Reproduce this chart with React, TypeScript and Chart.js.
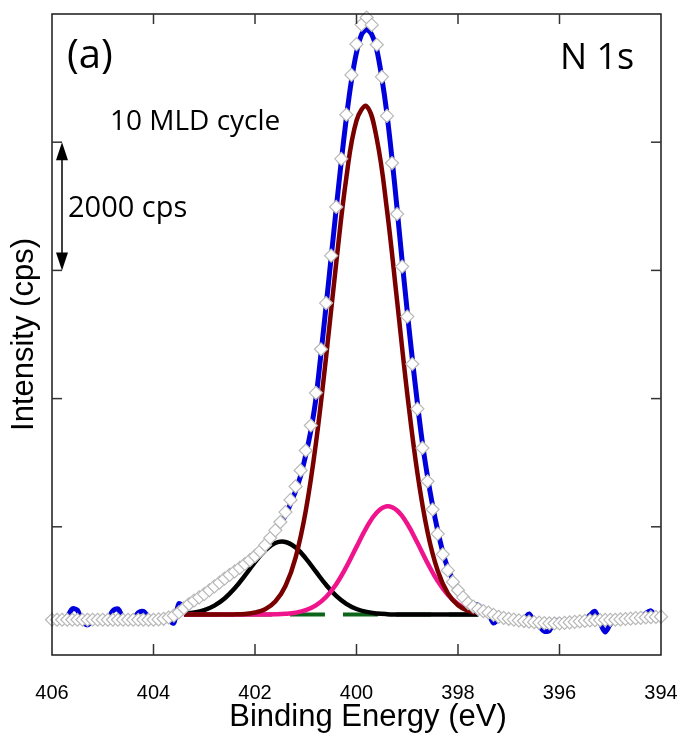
import React, { useEffect, useRef } from "react";
import { Chart, registerables } from "chart.js";

Chart.register(...registerables);

// ---------- DATA ----------
const energy = [
  406.0, 405.9, 405.8, 405.7, 405.6, 405.5, 405.4, 405.3, 405.2, 405.1,
  405.0, 404.9, 404.8, 404.7, 404.6, 404.5, 404.4, 404.3, 404.2, 404.1,
  404.0, 403.9, 403.8, 403.7, 403.6, 403.5, 403.4, 403.3, 403.2, 403.1,
  403.0, 402.9, 402.8, 402.7, 402.6, 402.5, 402.4, 402.3, 402.2, 402.1,
  402.0, 401.9, 401.8, 401.7, 401.6, 401.5, 401.4, 401.3, 401.2, 401.1,
  401.0, 400.9, 400.8, 400.7, 400.6, 400.5, 400.4, 400.3, 400.2, 400.1,
  400.0, 399.9, 399.8, 399.7, 399.6, 399.5, 399.4, 399.3, 399.2, 399.1,
  399.0, 398.9, 398.8, 398.7, 398.6, 398.5, 398.4, 398.3, 398.2, 398.1,
  398.0, 397.9, 397.8, 397.7, 397.6, 397.5, 397.4, 397.3, 397.2, 397.1,
  397.0, 396.9, 396.8, 396.7, 396.6, 396.5, 396.4, 396.3, 396.2, 396.1,
  396.0, 395.9, 395.8, 395.7, 395.6, 395.5, 395.4, 395.3, 395.2, 395.1,
  395.0, 394.9, 394.8, 394.7, 394.6, 394.5, 394.4, 394.3, 394.2, 394.1,
  394.0,
];

// fitted envelope (white diamonds), cps
const envelopeFit = [
  550, 550, 550, 550, 550, 550, 550, 550, 550, 550,
  550, 550, 550, 550, 550, 550, 550, 550, 550, 550,
  550, 555, 565, 585, 615, 665, 730, 795, 850, 900,
  950, 1010, 1070, 1130, 1190, 1250, 1305, 1360, 1420, 1480,
  1545, 1620, 1715, 1825, 1945, 2075, 2230, 2420, 2630, 2880,
  3190, 3580, 4090, 4770, 5490, 6230, 6990, 7740, 8430, 9050,
  9530, 9835, 9945, 9830, 9520, 9020, 8410, 7675, 6880, 6060,
  5280, 4540, 3840, 3230, 2710, 2270, 1890, 1570, 1320, 1140,
  1010, 900, 810, 755, 715, 685, 660, 625, 595, 578,
  565, 552, 540, 530, 520, 512, 505, 498, 494, 492,
  494, 500, 508, 516, 524, 532, 538, 542, 545, 547,
  548, 550, 555, 562, 568, 575, 580, 585, 590, 594,
  598,
];

// measured spectrum (blue line), cps
const measured = [
  560, 540, 555, 600, 720, 700, 520, 470, 530, 560,
  545, 560, 690, 720, 580, 540, 555, 660, 680, 600,
  560, 540, 560, 540, 500, 800, 760, 800, 860, 900,
  940, 1040, 1060, 1120, 1180, 1240, 1290, 1350, 1410, 1460,
  1520, 1590, 1680, 1790, 1900, 2030, 2180, 2360, 2560, 2800,
  3120, 3500, 4000, 4700, 5440, 6200, 6960, 7700, 8380, 8960,
  9400, 9680, 9760, 9680, 9440, 9000, 8440, 7740, 6960, 6140,
  5360, 4620, 3930, 3300, 2780, 2330, 1940, 1610, 1350, 1170,
  1020, 910, 830, 790, 780, 690, 640, 500, 560, 590,
  570, 560, 545, 560, 640, 520, 450, 370, 380, 520,
  540, 500, 490, 520, 530, 545, 620, 680, 500, 360,
  480, 560, 545, 560, 565, 570, 580, 650, 690, 600,
  590,
];

// fitted components
const compEnergy = [
  403.4, 403.2, 403.0, 402.8, 402.6, 402.4, 402.2, 402.0, 401.8, 401.6,
  401.4, 401.2, 401.0, 400.8, 400.6, 400.4, 400.2, 400.0, 399.8, 399.6,
  399.4, 399.2, 399.0, 398.8, 398.6, 398.4, 398.2, 398.0, 397.8, 397.6,
];
const peakMain = [
  630, 630, 630, 630, 631, 633, 641, 662, 714, 833,
  1076, 1520, 2247, 3300, 4641, 6112, 7447, 8338, 8560, 8051,
  6948, 5523, 4077, 2839, 1917, 1314, 960, 775, 688, 651,
];
const peakLow = [
  630, 630, 630, 630, 630, 630, 630, 630, 631, 634,
  642, 660, 699, 774, 905, 1105, 1374, 1687, 1992, 2223,
  2320, 2254, 2047, 1751, 1434, 1153, 939, 795, 710, 665,
];
const peakHigh = [
  644, 663, 701, 771, 882, 1040, 1237, 1448, 1632, 1747,
  1763, 1676, 1508, 1300, 1095, 924, 799, 718, 672, 648,
  637, 633, 631, 630, 630, 630, 630, 630, 630, 630,
];
const background = [
  630, 630, 630, 630, 630, 630, 630, 630, 630, 630,
  630, 630, 630, 630, 630, 630, 630, 630, 630, 630,
  630, 630, 630, 630, 630, 630, 630, 630, 630, 630,
];

const xTickValues = [406, 404, 402, 400, 398, 396, 394];
const yTickValues = [0, 2000, 4000, 6000, 8000, 10000];
const xMin = 394;
const xMax = 406;
const yMin = 0;
const yMax = 10000;
const scaleBarFrom = 6000;
const scaleBarTo = 8000;

const xTitle = "Binding Energy (eV)";
const yTitle = "Intensity (cps)";
const panelLabel = "(a)";
const coreLevel = "N 1s";
const sampleLabel = "10 MLD cycle";
const scaleLabel = "2000 cps";

function pts(xs: number[], ys: number[]) {
  return xs.map((x, i) => ({ x, y: ys[i] }));
}

const decorPlugin = {
  id: "decor",
  afterDatasetsDraw(chart: any) {
    const { ctx, chartArea: a, scales } = chart;
    const xs = scales.x;
    const ys = scales.y;
    ctx.save();

    // frame
    ctx.strokeStyle = "#1a1a1a";
    ctx.lineWidth = 1.5;
    ctx.strokeRect(a.left, a.top, a.right - a.left, a.bottom - a.top);

    // inward ticks
    ctx.strokeStyle = "#333";
    ctx.lineWidth = 1.5;
    const tl = 10;
    const seg = (x1: number, y1: number, x2: number, y2: number) => {
      ctx.beginPath();
      ctx.moveTo(x1, y1);
      ctx.lineTo(x2, y2);
      ctx.stroke();
    };
    xTickValues.forEach((v) => {
      if (v === xMin || v === xMax) return;
      const px = xs.getPixelForValue(v);
      seg(px, a.bottom, px, a.bottom - tl - 1);
      seg(px, a.top, px, a.top + tl);
    });
    yTickValues.forEach((v) => {
      if (v === yMin || v === yMax) return;
      const py = ys.getPixelForValue(v);
      seg(a.left, py, a.left + tl, py);
      seg(a.right, py, a.right - tl, py);
    });

    // scale bar (double arrow)
    const ax = a.left + 10;
    const yTop = ys.getPixelForValue(scaleBarTo);
    const yBot = ys.getPixelForValue(scaleBarFrom);
    ctx.strokeStyle = "#000";
    ctx.fillStyle = "#000";
    ctx.lineWidth = 1.5;
    seg(ax, yTop + 10, ax, yBot - 10);
    ctx.beginPath();
    ctx.moveTo(ax, yTop);
    ctx.lineTo(ax - 6, yTop + 18);
    ctx.lineTo(ax + 6, yTop + 18);
    ctx.closePath();
    ctx.fill();
    ctx.beginPath();
    ctx.moveTo(ax, yBot);
    ctx.lineTo(ax - 6, yBot - 18);
    ctx.lineTo(ax + 6, yBot - 18);
    ctx.closePath();
    ctx.fill();

    // annotations
    ctx.fillStyle = "#000";
    ctx.textAlign = "left";
    ctx.textBaseline = "alphabetic";
    ctx.font = '40px "Open Sans"';
    ctx.fillText(panelLabel, a.left + 15, a.top + 54);
    ctx.font = '36px "Open Sans"';
    ctx.fillText(coreLevel, a.left + 508, a.top + 55);
    ctx.font = '28px "Open Sans"';
    ctx.fillText(sampleLabel, a.left + 58, a.top + 116);
    ctx.font = '29px "Open Sans"';
    ctx.fillText(scaleLabel, a.left + 16, a.top + 203);

    // x-axis title (slightly right of centre, as in the original)
    ctx.textAlign = "center";
    ctx.font = '31px "Liberation Sans", Arial, sans-serif';
    ctx.fillText(xTitle, a.left + 316, a.bottom + 71);

    ctx.restore();
  },
};

export default function App() {
  const ref = useRef<HTMLCanvasElement | null>(null);

  useEffect(() => {
    document.body.style.margin = "0";
    const canvas = ref.current;
    if (!canvas) return;
    const chart = new Chart(canvas, {
      type: "scatter",
      data: {
        datasets: [
          {
            label: "Envelope",
            data: pts(energy, envelopeFit),
            showLine: false,
            pointStyle: "rectRot",
            pointRadius: 6.5,
            pointBackgroundColor: "#ffffff",
            pointBorderColor: "#b8b8b8",
            pointBorderWidth: 1.2,
            clip: false,
          } as any,
          {
            label: "Measured",
            data: pts(energy, measured),
            showLine: true,
            borderColor: "#0000dd",
            borderWidth: 5,
            pointRadius: 0,
            tension: 0.3,
          },
          {
            label: "Main peak",
            data: pts(compEnergy, peakMain),
            showLine: true,
            borderColor: "#7a0000",
            borderWidth: 4.5,
            pointRadius: 0,
            tension: 0.4,
          },
          {
            label: "Low BE peak",
            data: pts(compEnergy, peakLow),
            showLine: true,
            borderColor: "#f0148c",
            borderWidth: 4.5,
            pointRadius: 0,
            tension: 0.4,
          },
          {
            label: "High BE peak",
            data: pts(compEnergy, peakHigh),
            showLine: true,
            borderColor: "#000000",
            borderWidth: 4.5,
            pointRadius: 0,
            tension: 0.4,
          },
          {
            label: "Background",
            data: pts(compEnergy, background),
            showLine: true,
            borderColor: "#0d651b",
            borderWidth: 4,
            borderDash: [35, 18],
            pointRadius: 0,
            tension: 0,
          },
        ],
      },
      options: {
        responsive: false,
        animation: false,
        devicePixelRatio: 1,
        layout: { padding: { top: 14, right: 20, left: 0, bottom: 0 } },
        plugins: {
          legend: { display: false },
          tooltip: { enabled: false },
        },
        scales: {
          x: {
            type: "linear",
            position: "bottom",
            min: xMin,
            max: xMax,
            reverse: true,
            grid: { display: false },
            border: { display: false },
            ticks: {
              stepSize: 2,
              autoSkip: false,
              maxRotation: 0,
              padding: 18,
              color: "#000",
              font: { family: '"Liberation Sans", Arial, sans-serif', size: 20 },
            },
            title: { display: false, text: xTitle },
            afterFit: (s: any) => {
              s.height = 82;
              s.paddingLeft = 0;
              s.paddingRight = 0;
            },
          },
          y: {
            type: "linear",
            min: yMin,
            max: yMax,
            grid: { display: false },
            border: { display: false },
            ticks: { display: false, stepSize: 2000 },
            title: {
              display: true,
              text: yTitle,
              color: "#000",
              padding: { top: 6, bottom: 0 },
              font: { family: '"Liberation Sans", Arial, sans-serif', size: 31 },
            },
            afterFit: (s: any) => {
              s.width = 52;
              s.paddingTop = 0;
              s.paddingBottom = 0;
            },
          },
        },
      },
      plugins: [decorPlugin],
    } as any);
    return () => chart.destroy();
  }, []);

  return (
    <div style={{ width: 681, height: 737, background: "#fff" }}>
      <canvas ref={ref} width={681} height={737} style={{ display: "block" }} />
    </div>
  );
}
